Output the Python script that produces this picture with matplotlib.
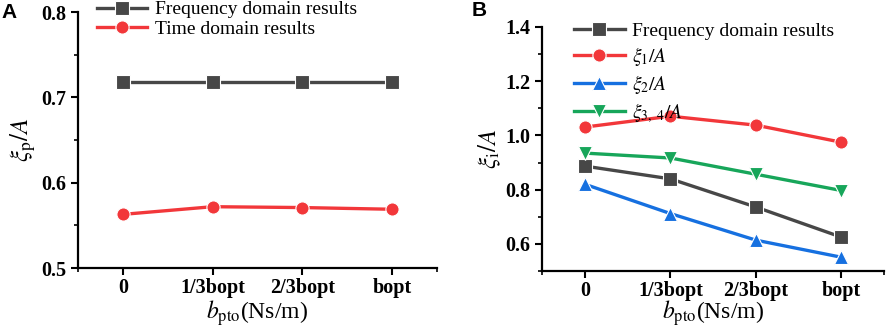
import numpy as np
import matplotlib.pyplot as plt

plt.rcParams['font.family'] = 'Liberation Serif'
plt.rcParams['mathtext.fontset'] = 'stix'

x_labels = ['0', '1/3bopt', '2/3bopt', 'bopt']

# panel A
freq_a = [0.718, 0.718, 0.718, 0.718]
time_a = [0.563, 0.572, 0.571, 0.569]

# panel B
freq_b = [0.887, 0.840, 0.736, 0.625]
xi1 = [1.031, 1.071, 1.038, 0.975]
xi2 = [0.820, 0.712, 0.614, 0.551]
xi34 = [0.935, 0.917, 0.857, 0.797]

grey = '#474747'
red = '#f2373a'
blue = '#1670e0'
green = '#17a65a'

fig = plt.figure(figsize=(8.86, 3.29), dpi=100)
axA = fig.add_axes([0.088, 0.185, 0.405, 0.778])
axB = fig.add_axes([0.612, 0.176, 0.386, 0.742])

x = np.arange(len(x_labels))
mk = dict(lw=2.4, ms=9.5, mec='white', mew=0.8)

axA.plot(x, freq_a, marker='s', color=grey, label='Frequency domain results', **mk)
axA.plot(x, time_a, marker='o', color=red, label='Time domain results', **mk)
axA.set_ylim(0.5, 0.8)
axA.set_yticks([0.5, 0.6, 0.7, 0.8])
axA.set_ylabel(r'$\xi_{\mathrm{p}}/A$', fontsize=18, labelpad=2)

axB.plot(x, freq_b, marker='s', color=grey, label='Frequency domain results', **mk)
axB.plot(x, xi1, marker='o', color=red, label=r'$\xi_1/A$', **mk)
axB.plot(x, xi2, marker='^', color=blue, label=r'$\xi_2/A$', **mk)
axB.plot(x, xi34, marker='v', color=green, label=r'$\xi_{3,\ 4}/A$', **mk)
axB.set_ylim(0.5, 1.4)
axB.set_yticks([0.6, 0.8, 1.0, 1.2, 1.4])
axB.set_ylabel(r'$\xi_{\mathrm{i}}/A$', fontsize=18, labelpad=2)

for ax in (axA, axB):
    ax.set_xlim(-0.5, 3.5)
    ax.set_xticks(x)
    ax.set_xticklabels(x_labels)
    ax.set_xticks(x[:-1] + 0.5, minor=True)
    ax.set_xticks([-0.5, 3.5], minor=True)
    ax.spines['top'].set_visible(False)
    ax.spines['right'].set_visible(False)
    ax.spines['left'].set_linewidth(1.6)
    ax.spines['bottom'].set_linewidth(1.6)
    ax.tick_params(which='major', direction='out', length=5, width=1.5, labelsize=14.5)
    ax.tick_params(axis='x', which='major', pad=2)
    ax.tick_params(which='minor', direction='out', length=3, width=1.2)
    for lab in ax.get_xticklabels() + ax.get_yticklabels():
        lab.set_fontweight('bold')

axA.set_xlabel(r'$b_{\mathrm{pto}}$(Ns/m)', fontsize=17, labelpad=0)
axB.set_xlabel(r'$b_{\mathrm{pto}}$(Ns/m)', fontsize=17, labelpad=-2)

axA.yaxis.set_minor_locator(plt.MultipleLocator(0.05))
axB.yaxis.set_minor_locator(plt.MultipleLocator(0.1))

axA.legend(loc='upper left', bbox_to_anchor=(0.03, 1.075), frameon=False, fontsize=14,
           handlelength=2.6, labelspacing=0.1, borderaxespad=0, handletextpad=0.4)
axB.legend(loc='upper left', bbox_to_anchor=(0.07, 1.05), frameon=False, fontsize=14,
           handlelength=2.6, labelspacing=0.25, borderaxespad=0, handletextpad=0.4)

fig.text(0.002, 0.945, 'A', fontsize=15, fontweight='bold', family='Liberation Sans')
fig.text(0.532, 0.95, 'B', fontsize=15, fontweight='bold', family='Liberation Sans')

fig.savefig('out.png', dpi=100)
